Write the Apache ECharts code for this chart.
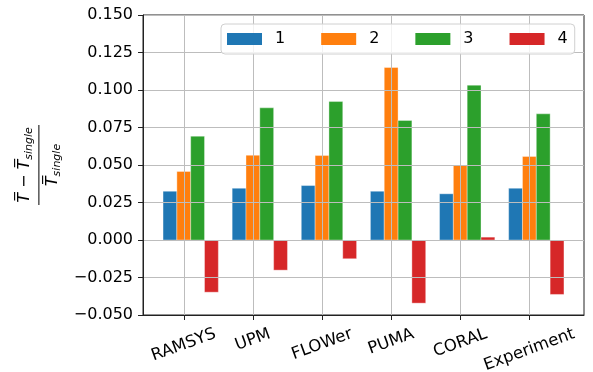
<!DOCTYPE html>
<html>
<head>
<meta charset="utf-8">
<script src="https://cdn.jsdelivr.net/npm/echarts@6/dist/echarts.min.js"></script>
<style>
  html, body { margin: 0; padding: 0; background: #ffffff; }
  #chart { width: 593px; height: 372px; }
</style>
</head>
<body>
<div id="chart"></div>
<script>
// Codes compared, one group of bars per code
const categories = ['RAMSYS', 'UPM', 'FLOWer', 'PUMA', 'CORAL', 'Experiment'];
// Series (cases) shown in the legend
const seriesNames = ['1', '2', '3', '4'];
// Relative deviation (T - T_single) / T_single per code
const values1 = [0.0325, 0.0345, 0.0363, 0.0325, 0.0308, 0.0345];
const values2 = [0.0457, 0.0565, 0.0563, 0.1150, 0.0499, 0.0557];
const values3 = [0.0692, 0.0881, 0.0923, 0.0797, 0.1032, 0.0841];
const values4 = [-0.0348, -0.0201, -0.0125, -0.0421, 0.0019, -0.0363];

const seriesValues = [values1, values2, values3, values4];
const colors = ['#1f77b4', '#ff7f0e', '#2ca02c', '#d62728'];
const FONT = 'DejaVu Sans';
const BAR_W = 0.2;
const offsets = [-0.2, 0, 0.2, 0.4];

// rotated category labels: keep the tops of the rotated boxes level and centred on ticks
const ROT = 20 * Math.PI / 180;
const sn = Math.sin(ROT), cs = Math.cos(ROT), LH = 16;
const LABEL_SIZE = 16.5;
const ctx = document.createElement('canvas').getContext('2d');
ctx.font = LABEL_SIZE + 'px "' + FONT + '"';
const widths = categories.map(t => ctx.measureText(t).width);
const wMin = Math.min.apply(null, widths);
const labelRich = {};
categories.forEach((t, i) => {
  const p = cs * sn * (widths[i] - wMin) / 2;
  const d = (p + LH / 2) * Math.tan(ROT);
  labelRich['c' + i] = {
    fontFamily: FONT, fontSize: LABEL_SIZE, color: '#000', lineHeight: LH + p,
    padding: [p, 2 * d, 0, 0]
  };
});
const labelTopGap = 11;
const labelMargin = labelTopGap - ((LH / 2) * Math.tan(ROT) * sn - (wMin / 2) * sn);

const fmtY = v => {
  const r = Math.round(v * 1000) / 1000;
  return (r < 0 ? '\u2212' : '') + Math.abs(r).toFixed(3);
};

const TB = 'T\u0305';
const yName = '{t|' + TB + '}{m| \u2212 }{t|' + TB + '}{s|single}\n{bar|}\n{t|' + TB + '}{s|single}';

const series = seriesValues.map((vals, k) => ({
  name: seriesNames[k],
  type: 'custom',
  z: 1,
  itemStyle: { color: colors[k] },
  encode: { x: 0, y: 1 },
  data: vals.map((v, i) => [i, v]),
  renderItem: (params, api) => {
    const xc = api.value(0) + offsets[k];
    const v = api.value(1);
    const a = api.coord([xc - BAR_W / 2, v]);
    const b = api.coord([xc + BAR_W / 2, 0]);
    return {
      type: 'rect',
      shape: { x: a[0], y: Math.min(a[1], b[1]), width: b[0] - a[0], height: Math.abs(b[1] - a[1]) },
      style: { fill: colors[k], stroke: 'rgba(255,255,255,0.45)', lineWidth: 0.8 }
    };
  }
}));

const chart = echarts.init(document.getElementById('chart'), null, { renderer: 'canvas' });
chart.setOption({
  animation: false,
  backgroundColor: '#ffffff',
  textStyle: { fontFamily: FONT },
  grid: {
    left: 143, right: 9, top: 15, bottom: 57,
    outerBoundsMode: 'none', containLabel: false,
    show: true, borderColor: '#222', borderWidth: 1, backgroundColor: 'transparent'
  },
  legend: {
    data: seriesNames,
    left: 221, top: 24,
    orient: 'horizontal',
    icon: 'rect',
    itemWidth: 35, itemHeight: 12, itemGap: 36,
    padding: [7, 7, 7, 6],
    backgroundColor: 'rgba(255,255,255,0.8)',
    borderColor: '#d0d0d0', borderWidth: 1, borderRadius: 4,
    textStyle: { fontFamily: FONT, fontSize: 16, color: '#000', padding: [0, 0, 0, 8] },
    z: 10
  },
  xAxis: {
    type: 'value',
    min: -0.59, max: 5.79,
    z: 3,
    axisLine: { show: true, onZero: false, lineStyle: { color: '#222', width: 1 } },
    axisTick: { show: true, length: 5, lineStyle: { color: '#222' }, customValues: [0, 1, 2, 3, 4, 5] },
    axisLabel: {
      customValues: [0, 1, 2, 3, 4, 5],
      rotate: 20, align: 'center', verticalAlign: 'top', margin: labelMargin,
      formatter: v => { const i = Math.round(v); return '{c' + i + '|' + categories[i] + '}'; },
      rich: labelRich
    },
    splitLine: { show: true, lineStyle: { color: '#bdbdbd', width: 1 } }
  },
  yAxis: {
    type: 'value',
    min: -0.05, max: 0.15, interval: 0.025,
    z: 3,
    axisLine: { show: true, onZero: false, lineStyle: { color: '#222', width: 1 } },
    axisTick: { show: true, length: 5, lineStyle: { color: '#222' } },
    axisLabel: { margin: 10, fontFamily: FONT, fontSize: 16, color: '#000', formatter: fmtY },
    splitLine: { show: true, lineStyle: { color: '#bdbdbd', width: 1 } },
    name: yName,
    nameLocation: 'middle', nameRotate: 90, nameGap: 77,
    nameTextStyle: {
      color: '#000', fontFamily: FONT,
      rich: {
        t: { fontFamily: FONT, fontSize: 16, fontStyle: 'italic', color: '#000', lineHeight: 20 },
        m: { fontFamily: FONT, fontSize: 16, color: '#000', lineHeight: 20 },
        s: { fontFamily: FONT, fontSize: 11, fontStyle: 'italic', color: '#000', lineHeight: 12, verticalAlign: 'bottom' },
        bar: { width: 80, height: 1, lineHeight: 8, backgroundColor: '#000' }
      }
    }
  },
  series: series
});
</script>
</body>
</html>
